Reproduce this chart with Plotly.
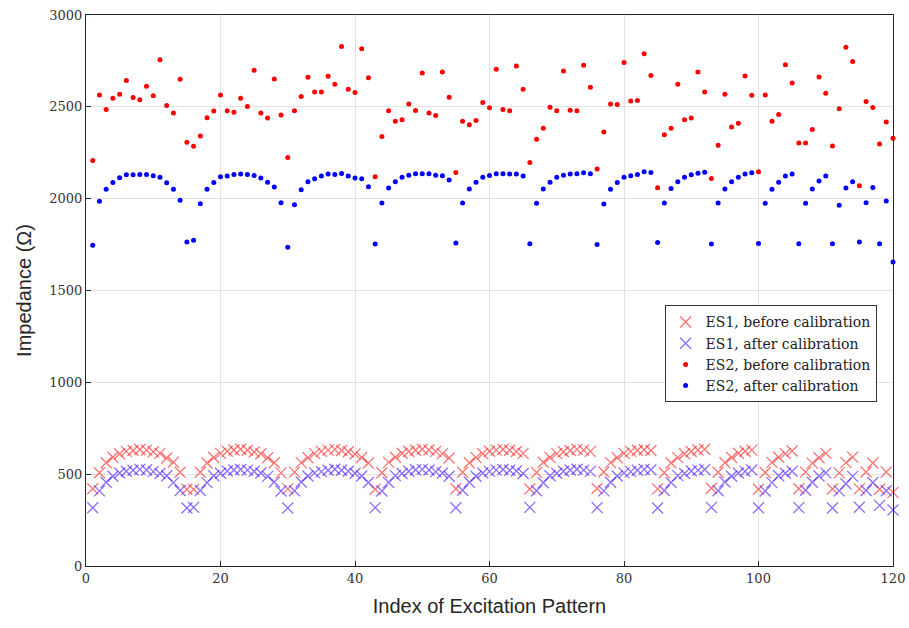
import numpy as np
import plotly.graph_objects as go

# Index of excitation pattern
pattern_index = list(range(1, 121))

# ES1, before calibration (Ohm)
es1_before = [
    421, 508, 562, 592, 611, 624, 629, 634, 631, 622, 613, 588, 565, 510, 418,
    417, 510, 561, 591, 613, 625, 632, 636, 630, 621, 611, 589, 562, 507,
    420, 511, 563, 589, 612, 624, 631, 635, 629, 622, 610, 591, 561,
    418, 508, 564, 592, 614, 623, 630, 636, 632, 624, 612, 588,
    421, 510, 562, 590, 611, 625, 631, 634, 630, 623, 613,
    419, 509, 565, 591, 612, 622, 629, 635, 631, 624,
    422, 512, 563, 589, 613, 624, 630, 633, 629,
    420, 508, 561, 590, 611, 623, 632, 636,
    423, 510, 562, 591, 614, 625, 631,
    418, 509, 564, 592, 612, 626,
    421, 511, 560, 589, 613,
    419, 507, 563, 593,
    420, 512, 561,
    418, 512,
    401,
]

# ES1, after calibration (Ohm)
es1_after = [
    317, 409, 456, 489, 506, 516, 521, 526, 523, 514, 504, 491, 454, 411, 316,
    319, 411, 454, 491, 505, 517, 523, 525, 522, 515, 506, 488, 457, 408,
    316, 410, 457, 490, 507, 514, 521, 527, 521, 516, 505, 490, 455,
    318, 408, 455, 492, 504, 516, 524, 526, 523, 514, 506, 489,
    317, 412, 456, 489, 506, 515, 522, 525, 521, 517, 504,
    319, 410, 453, 491, 505, 516, 523, 527, 522, 515,
    318, 409, 456, 490, 507, 514, 521, 526, 524,
    316, 411, 455, 492, 504, 517, 522, 525,
    319, 410, 457, 489, 506, 515, 523,
    317, 408, 454, 491, 505, 516,
    318, 412, 456, 490, 507,
    316, 409, 448, 488,
    320, 411, 455,
    330, 410,
    305,
]

# ES2, before calibration (Ohm)
es2_before = [
    2208, 2565, 2486, 2547, 2569, 2644, 2551, 2538, 2612, 2561, 2756, 2507, 2466, 2650, 2307,
    2285, 2341, 2440, 2477, 2565, 2478, 2471, 2547, 2502, 2699, 2466, 2439, 2652, 2455,
    2224, 2478, 2556, 2661, 2581, 2581, 2666, 2623, 2828, 2596, 2578, 2816, 2659,
    2119, 2339, 2478, 2422, 2430, 2516, 2480, 2684, 2466, 2453, 2690, 2552,
    2143, 2422, 2403, 2426, 2523, 2495, 2704, 2486, 2478, 2722, 2596,
    2197, 2323, 2384, 2498, 2478, 2695, 2482, 2478, 2726, 2606,
    2161, 2363, 2516, 2513, 2742, 2532, 2534, 2789, 2671,
    2060, 2348, 2384, 2623, 2430, 2439, 2690, 2581,
    2110, 2291, 2569, 2390, 2410, 2668, 2563,
    2146, 2565, 2422, 2458, 2729, 2630,
    2303, 2303, 2377, 2662, 2574,
    2287, 2489, 2825, 2747,
    2070, 2529, 2496,
    2298, 2417,
    2329,
]

# ES2, after calibration (Ohm)
es2_after = [
    1747, 1986, 2051, 2088, 2114, 2130, 2130, 2132, 2132, 2125, 2117, 2087, 2051, 1991, 1764,
    1773, 1973, 2051, 2088, 2119, 2123, 2132, 2134, 2132, 2126, 2112, 2090, 2063, 1978,
    1735, 1967, 2049, 2092, 2108, 2123, 2134, 2132, 2137, 2123, 2112, 2108, 2065,
    1753, 1977, 2058, 2092, 2116, 2128, 2135, 2135, 2135, 2128, 2125, 2101,
    1758, 1977, 2052, 2090, 2116, 2126, 2135, 2135, 2134, 2134, 2123,
    1755, 1975, 2052, 2090, 2116, 2128, 2134, 2135, 2141, 2135,
    1751, 1971, 2051, 2088, 2117, 2125, 2132, 2146, 2143,
    1762, 1977, 2056, 2092, 2117, 2130, 2139, 2144,
    1753, 1977, 2052, 2092, 2117, 2134, 2141,
    1756, 1975, 2051, 2090, 2123, 2134,
    1755, 1975, 2052, 2096, 2123,
    1755, 1964, 2058, 2092,
    1764, 1978, 2061,
    1755, 1987,
    1655,
]

x_ticks = [0, 20, 40, 60, 80, 100, 120]
y_ticks = [0, 500, 1000, 1500, 2000, 2500, 3000]

serif = "DejaVu Serif"
sans = "Liberation Sans"

fig = go.Figure()
fig.add_trace(go.Scatter(
    x=pattern_index, y=es1_before, mode="markers", name="ES1, before calibration",
    marker=dict(symbol="x-thin", size=11, line=dict(width=1.3, color="rgba(255,40,40,0.65)")),
    cliponaxis=False))
fig.add_trace(go.Scatter(
    x=pattern_index, y=es1_after, mode="markers", name="ES1, after calibration",
    marker=dict(symbol="x-thin", size=11, line=dict(width=1.3, color="rgba(80,30,255,0.65)")),
    cliponaxis=False))
fig.add_trace(go.Scatter(
    x=pattern_index, y=es2_before, mode="markers", name="ES2, before calibration",
    marker=dict(symbol="circle", size=5, color="#ff0000"),
    cliponaxis=False))
fig.add_trace(go.Scatter(
    x=pattern_index, y=es2_after, mode="markers", name="ES2, after calibration",
    marker=dict(symbol="circle", size=5, color="#0000ff"),
    cliponaxis=False))

axis_common = dict(
    showgrid=True, gridcolor="#e3e3e3", gridwidth=1,
    showline=True, linecolor="#262626", linewidth=1, mirror=True,
    ticks="inside", ticklen=5, tickcolor="#262626",
    zeroline=False, automargin=False,
    tickfont=dict(family=serif, size=13, color="#333333"),
)

fig.update_layout(
    width=909, height=628,
    paper_bgcolor="white", plot_bgcolor="white",
    margin=dict(l=86, r=16, t=15, b=62),
    xaxis=dict(range=[0, 120], tickvals=x_ticks,
               title=dict(text="Index of Excitation Pattern", font=dict(family=sans, size=20, color="#262626"), standoff=14),
               **axis_common),
    yaxis=dict(range=[0, 3000], tickvals=y_ticks,
               title=dict(text="Impedance (Ω)", font=dict(family=sans, size=20, color="#262626"), standoff=12),
               **axis_common),
    legend=dict(x=0.717, y=0.473, xanchor="left", yanchor="top",
                bgcolor="white", bordercolor="#333333", borderwidth=1,
                font=dict(family=serif, size=14, color="#222222"),
                itemwidth=30, tracegroupgap=0),
    showlegend=True,
)

fig.write_html("out.html", config={"displayModeBar": False},
               post_script="document.body.style.margin='0';")
